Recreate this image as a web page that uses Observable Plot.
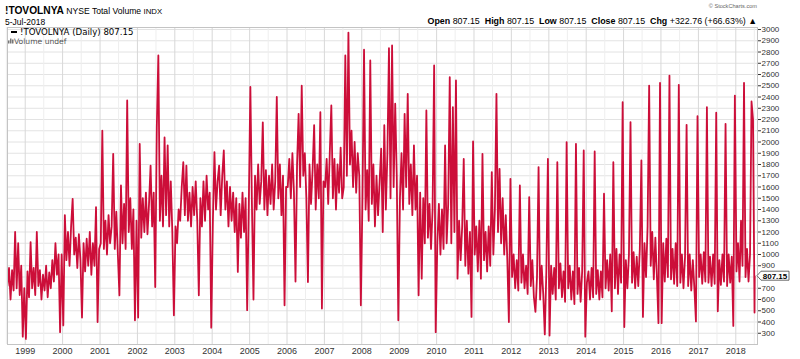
<!DOCTYPE html>
<html><head><meta charset="utf-8">
<script src="https://cdn.jsdelivr.net/npm/d3@7"></script>
<script src="https://cdn.jsdelivr.net/npm/@observablehq/plot@0.6"></script>
<style>
body{margin:0;background:#fff;}
#wrap{position:relative;width:800px;height:359px;overflow:hidden;}
</style></head><body><div id="wrap"></div>
<script>
// NYSE Total Volume (!TOVOLNYA), daily at ~2 readings per month
const y1998 = [720, 880, 600, 860, 680, 1200, 700, 1100, 640, 900, 270, 700];
const y1999 = [250, 850, 620, 1110, 700, 880, 640, 1200, 720, 860, 600, 820, 680, 900, 620, 840, 700, 950, 760, 1100, 820, 1000, 310, 1000];
const y2000 = [370, 1350, 950, 1200, 900, 1250, 1495, 1000, 1150, 880, 1180, 950, 440, 1100, 850, 1140, 900, 1200, 820, 1100, 900, 1420, 400, 1050];
const y2001 = [1100, 2100, 1050, 1300, 1000, 1350, 1100, 1250, 1895, 1050, 1380, 1000, 637, 1614, 1100, 1450, 1050, 2370, 1200, 1500, 1050, 1400, 415, 1300];
const y2002 = [440, 1984, 1150, 1500, 1200, 1550, 1180, 1450, 1790, 1250, 1550, 711, 2130, 2770, 1300, 1700, 1250, 2040, 1350, 1970, 1250, 1650, 1200, 460];
const y2003 = [1250, 1100, 1400, 1300, 1600, 1820, 1350, 1790, 1300, 1550, 1250, 1600, 1350, 1650, 1300, 637, 1500, 1250, 1650, 1300, 1700, 1400, 1550, 350];
const y2004 = [1300, 1910, 1400, 1650, 1790, 1350, 1700, 1925, 1400, 1650, 1250, 1600, 1300, 1550, 1200, 1500, 845, 1450, 1150, 1550, 1200, 1500, 505, 1400];
const y2005 = [2490, 1450, 600, 1700, 1400, 1800, 1450, 1650, 2175, 1400, 1750, 1350, 1700, 1450, 1800, 1400, 1650, 2400, 1500, 1800, 1350, 1700, 548, 1600];
const y2006 = [1600, 1850, 1500, 1900, 1550, 760, 1800, 2250, 1600, 2500, 1700, 1900, 1500, 755, 1800, 1450, 1750, 2150, 1400, 1800, 1500, 2265, 520, 1650];
const y2007 = [1600, 1850, 1450, 1900, 2325, 1500, 1850, 1400, 1800, 1550, 1950, 1500, 1600, 2770, 1700, 2973, 1800, 2100, 1600, 2000, 1550, 1900, 1700, 548];
const y2008 = [1500, 2820, 1400, 1750, 1300, 2725, 1450, 1800, 1250, 1700, 1350, 1650, 1940, 1200, 2150, 1400, 1900, 2834, 1500, 2858, 1600, 2340, 1700, 415];
const y2009 = [1500, 1900, 1400, 2250, 1600, 2428, 1450, 1800, 1350, 1970, 1400, 1700, 637, 1550, 785, 1500, 1100, 2280, 1150, 1450, 1050, 1400, 2680, 310];
const y2010 = [1100, 1450, 1000, 1400, 1050, 1970, 1100, 1450, 2576, 1100, 2310, 1200, 2547, 785, 1300, 950, 1250, 1850, 900, 1300, 830, 1200, 445, 2005];
const y2011 = [1000, 1250, 850, 1300, 785, 1895, 950, 1200, 850, 1250, 900, 1733, 1000, 1400, 2428, 1200, 1762, 1100, 1500, 1000, 1350, 950, 400, 1673];
const y2012 = [800, 1000, 700, 950, 680, 1614, 750, 1000, 700, 900, 650, 1510, 720, 950, 620, 490, 800, 1777, 600, 900, 650, 290, 850, 1851];
const y2013 = [280, 900, 650, 880, 600, 1821, 700, 920, 620, 850, 580, 1999, 700, 900, 600, 850, 560, 1984, 650, 880, 580, 850, 1925, 270];
const y2014 = [750, 850, 600, 880, 620, 1916, 650, 860, 600, 850, 620, 1540, 700, 950, 680, 1000, 495, 1821, 700, 1050, 650, 1000, 750, 2354];
const y2015 = [355, 950, 700, 1000, 2177, 750, 1020, 700, 980, 720, 1050, 1836, 445, 1100, 800, 1250, 2502, 900, 1200, 780, 1150, 800, 390, 2526];
const y2016 = [390, 1100, 760, 1140, 800, 2591, 780, 1050, 740, 1100, 720, 2508, 750, 1000, 700, 980, 2153, 720, 1000, 680, 950, 700, 405, 2230];
const y2017 = [800, 1000, 740, 1020, 760, 2310, 750, 980, 720, 1000, 740, 2260, 495, 950, 730, 1000, 760, 2162, 720, 1000, 750, 980, 365, 2413];
const y2018 = [850, 1100, 760, 1300, 900, 2526, 800, 1050, 760, 1000, 2360, 2200, 484.39];
const lastDate = "2018-07-05";
const lastClose = 807.15;
const yTicks = [300,400,500,600,700,800,900,1000,1100,1200,1300,1400,1500,1600,1700,1800,1900,2000,2100,2200,2300,2400,2500,2600,2700,2800,2900,3000];
const yearLabels = [1999,2000,2001,2002,2003,2004,2005,2006,2007,2008,2009,2010,2011,2012,2013,2014,2015,2016,2017,2018];

function spread(values, start, end) {
  const t0 = +new Date(start), t1 = +new Date(end);
  return values.map((v, i) => ({date: new Date(t0 + (t1 - t0) * i / (values.length - 1)), value: v}));
}
const fullYears = [[1999,y1999],[2000,y2000],[2001,y2001],[2002,y2002],[2003,y2003],[2004,y2004],[2005,y2005],[2006,y2006],[2007,y2007],[2008,y2008],[2009,y2009],[2010,y2010],[2011,y2011],[2012,y2012],[2013,y2013],[2014,y2014],[2015,y2015],[2016,y2016],[2017,y2017]];
const data = [
  ...spread(y1998, "1998-07-12", "1998-12-23"),
  ...fullYears.flatMap(([yr, vals]) => spread(vals, `${yr}-01-08`, `${yr}-12-23`)),
  ...spread(y2018, "2018-01-08", "2018-07-03"),
  {date: new Date(lastDate), value: lastClose}
];

const yearTicks = yearLabels.map(y => new Date(Date.UTC(y, 0, 1)));
const halfTicks = [1998, ...yearLabels].map(y => new Date(Date.UTC(y, 6, 1)));
const labelTicks = yTicks.filter(d => Math.abs(d - lastClose) > 50); // the last-value tag covers this label
const lineColor = "#cc0e39";
const font = "'Liberation Sans', Arial, sans-serif";

const plot = Plot.plot({
  width: 800, height: 359,
  marginTop: 27, marginBottom: 15, marginLeft: 7, marginRight: 43,
  x: {type: "utc", domain: [new Date("1998-07-12"), new Date("2018-08-01")], label: null},
  y: {domain: [200, 3018], label: null},
  style: {background: "#fff", fontFamily: font, color: "#333"},
  marks: [
    Plot.gridY(yTicks, {stroke: "#e3e3e3", strokeOpacity: 1}),
    Plot.gridX(halfTicks, {stroke: "#eeeeee", strokeOpacity: 1}),
    Plot.gridX(yearTicks, {stroke: "#d8d8d8", strokeOpacity: 1}),
    Plot.lineY(data, {x: "date", y: "value", stroke: lineColor, strokeWidth: 1.8, clip: true}),
    Plot.frame({stroke: "#c4c4c4"}),
    Plot.axisY(labelTicks, {anchor: "right", tickSize: 3, tickPadding: 1, fontSize: 8, tickFormat: d3.format("d"), label: null}),
    Plot.axisX(yearTicks, {anchor: "bottom", tickSize: 0, tickPadding: 3, fontSize: 9, tickFormat: d3.utcFormat("%Y"), label: null})
  ]
});
document.getElementById("wrap").appendChild(plot);

const svg = d3.select(plot);
const g = svg.append("g");
function txt(x, y, parts, anchor, size, family, fill) {
  const t = g.append("text").attr("x", x).attr("y", y).attr("text-anchor", anchor || "start")
    .attr("font-size", size).attr("font-family", family || font).attr("fill", fill || "#000");
  parts.forEach(p => t.append("tspan").attr("font-weight", p.b ? "bold" : "normal")
    .attr("font-size", p.s || size).attr("fill", p.c || fill || "#000").text(p.t));
  return t;
}
// header
txt(5, 14, [{t: "!TOVOLNYA", b: true, s: 10.2}, {t: " NYSE Total Volume ", s: 8.6}, {t: "INDX", s: 7.8}], "start", 10);
txt(5, 25, [{t: "5-Jul-2018"}], "start", 8.5);
txt(757, 8, [{t: "© StockCharts.com"}], "end", 5.6, font, "#666");
txt(757, 24, [
  {t: "Open", b: true}, {t: " 807.15  "}, {t: "High", b: true}, {t: " 807.15  "},
  {t: "Low", b: true}, {t: " 807.15  "}, {t: "Close", b: true}, {t: " 807.15  "},
  {t: "Chg", b: true}, {t: " +322.76 (+66.63%) ▲"}
], "end", 8.9);
// legend inside the frame
g.append("rect").attr("x", 11).attr("y", 31).attr("width", 6).attr("height", 2).attr("fill", "#000");
txt(20, 35, [{t: "!TOVOLNYA (Daily) 807.15"}], "start", 8.6, "'DejaVu Sans', sans-serif", "#000");
[[8,3],[10,5],[12,4]].forEach(([x, h]) => g.append("rect").attr("x", x).attr("y", 43.5 - h).attr("width", 1.5).attr("height", h).attr("fill", "#777"));
txt(14, 43.5, [{t: "Volume undef"}], "start", 7.6, "'DejaVu Sans', sans-serif", "#555");
// last value tag
const yv = plot.scale("y").apply(lastClose);
g.append("path").attr("d", `M757,${yv} L761,${yv-4.5} L789,${yv-4.5} L789,${yv+4.5} L761,${yv+4.5} Z`)
  .attr("fill", "#fff").attr("stroke", "#444").attr("stroke-width", 0.8);
txt(775, yv + 3, [{t: "807.15", b: true}], "middle", 8, font, "#000");
</script></body></html>
